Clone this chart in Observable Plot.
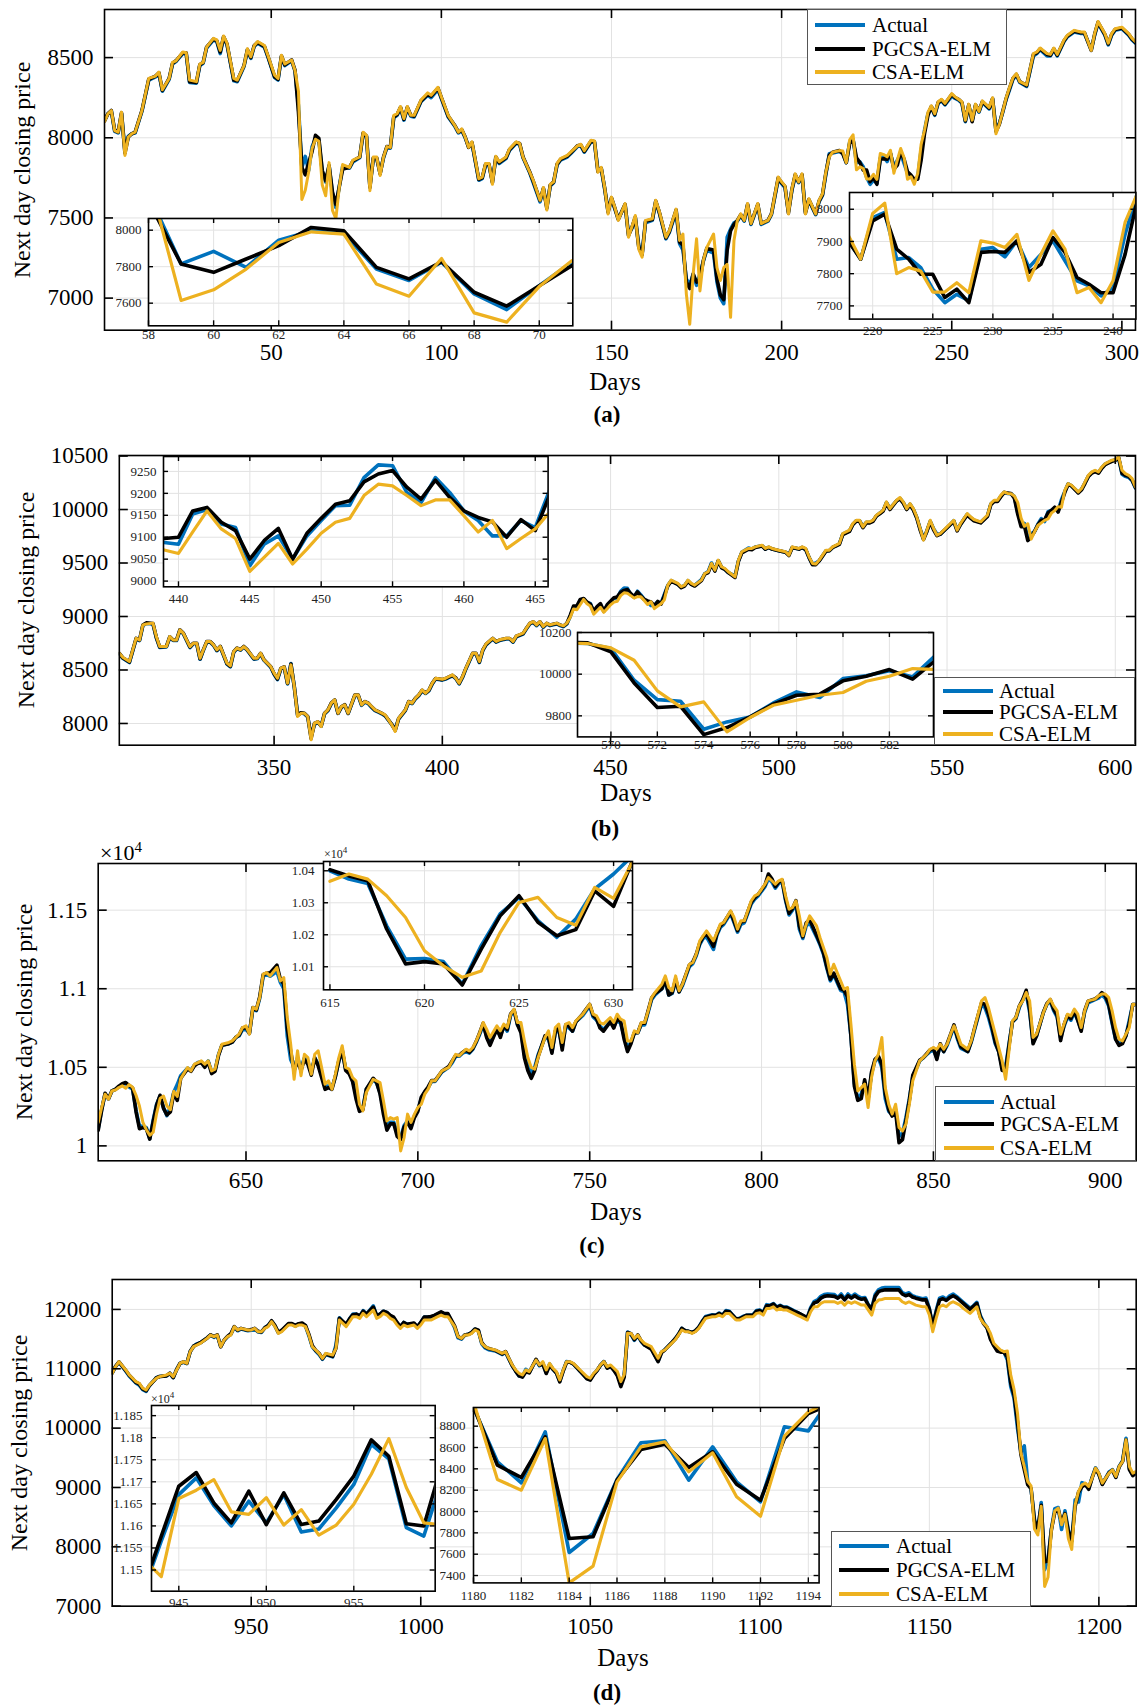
<!DOCTYPE html>
<html><head><meta charset="utf-8">
<script src="https://cdn.jsdelivr.net/npm/d3@7"></script>
<script src="https://cdn.jsdelivr.net/npm/@observablehq/plot@0.6"></script>
<style>
html,body{margin:0;padding:0;background:#fff;}
#root{position:relative;width:1147px;height:1707px;overflow:hidden;font-family:"Liberation Serif","Times New Roman",serif;color:#000;}
.lbl{position:absolute;white-space:nowrap;line-height:1;}
.legend{position:absolute;background:#fff;border:1.3px solid #555;box-sizing:border-box;}
.lrow{position:absolute;left:0;right:0;height:0;}
.lsw{position:absolute;height:4px;width:50px;top:-2px;}
.ltx{position:absolute;top:0;transform:translateY(-50%);font-size:21px;line-height:1;white-space:nowrap;}
</style></head><body><div id="root"></div>
<script>
// ---------- DATA ----------
const seriesNames = ["Actual", "PGCSA-ELM", "CSA-ELM"];
const seriesColors = ["#0072BD", "#000000", "#EDB120"];

// rows: [day, Actual, PGCSA-ELM, CSA-ELM]
const panelA = [[1,8110,8105,8100],[2,8150,8150,8150],[3,8165,8170,8170],[4,8040,8045,8045],[5,8030,8035,8035],[6,8150,8155,8160],[7,7920,7905,7890],[8,8010,8005,8005],[9,8025,8025,8025],[10,8030,8035,8035],[12,8165,8170,8170],[14,8360,8365,8370],[16,8380,8385,8385],[17,8400,8405,8410],[18,8290,8295,8300],[20,8365,8370,8370],[21,8460,8465,8470],[22,8475,8480,8480],[24,8525,8530,8535],[25,8525,8530,8530],[26,8345,8350,8360],[28,8340,8345,8350],[29,8450,8455,8460],[30,8465,8470,8470],[31,8560,8565,8565],[33,8610,8615,8620],[34,8600,8605,8610],[35,8525,8535,8545],[36,8625,8630,8635],[37,8580,8585,8590],[39,8355,8360,8370],[40,8350,8355,8360],[42,8445,8450,8450],[43,8545,8550,8555],[44,8495,8500,8505],[45,8570,8575,8575],[46,8590,8595,8600],[48,8565,8570,8575],[49,8505,8510,8515],[51,8375,8380,8390],[52,8360,8365,8370],[53,8505,8510,8515],[54,8450,8455,8460],[56,8480,8485,8485],[57,8415,8420,8420],[58,8200,8160,8290],[59,7815,7815,7615],[60,7884,7769,7673],[61,7796,7842,7787],[62,7945,7915,7933],[63,7996,8015,7991],[64,7982,7996,7978],[65,7787,7796,7705],[66,7724,7733,7638],[67,7824,7827,7845],[68,7651,7660,7547],[69,7565,7584,7496],[70,7696,7696,7691],[71,7824,7805,7833],[73,7810,7815,7815],[74,7850,7855,7860],[76,7875,7880,7880],[77,8025,8030,8035],[78,8005,8010,8015],[79,7700,7690,7670],[80,7870,7875,7880],[81,7870,7875,7880],[82,7780,7775,7765],[83,7875,7880,7880],[84,7940,7945,7945],[85,7935,7940,7940],[86,8125,8130,8140],[87,8140,8145,8150],[88,8185,8190,8195],[89,8110,8115,8120],[90,8185,8190,8195],[91,8135,8140,8140],[92,8130,8135,8140],[94,8225,8230,8235],[96,8265,8270,8280],[97,8250,8260,8265],[99,8300,8310,8315],[100,8245,8250,8255],[102,8130,8135,8140],[104,8070,8075,8075],[105,8030,8035,8035],[106,8045,8050,8055],[107,8000,8005,8005],[108,7945,7940,7940],[109,7965,7970,7975],[111,7735,7740,7745],[112,7745,7750,7755],[113,7830,7835,7840],[114,7830,7835,7840],[115,7730,7720,7710],[116,7870,7880,7885],[117,7840,7845,7850],[119,7870,7875,7880],[120,7920,7925,7930],[122,7965,7970,7975],[123,7960,7965,7965],[124,7875,7880,7880],[126,7780,7785,7785],[127,7720,7730,7735],[129,7600,7610,7610],[130,7680,7685,7690],[131,7570,7560,7550],[132,7700,7705,7710],[133,7720,7725,7725],[134,7830,7835,7840],[135,7860,7865,7870],[137,7880,7885,7890],[138,7900,7905,7910],[140,7945,7950,7950],[141,7950,7955,7960],[142,7910,7915,7920],[144,7975,7980,7985],[145,7970,7975,7980],[146,7800,7790,7785],[147,7805,7810,7815],[148,7680,7685,7690],[149,7545,7535,7525],[150,7620,7625,7630],[151,7555,7560,7565],[152,7495,7490,7485],[154,7580,7585,7590],[155,7400,7390,7380],[156,7435,7440,7445],[157,7500,7505,7515],[158,7330,7320,7305],[159,7280,7270,7255],[160,7470,7480,7485],[162,7485,7490,7495],[163,7600,7605,7610],[164,7535,7540,7545],[166,7370,7375,7380],[167,7410,7415,7420],[169,7540,7550,7555],[170,7340,7350,7360],[171,7300,7330,7400],[172,7120,7100,7025],[173,7080,7060,6837],[174,7150,7150,7150],[175,7080,7100,7370],[176,7150,7120,7045],[177,7230,7235,7235],[178,7300,7310,7315],[180,7280,7300,7400],[181,7100,7120,7190],[182,7000,7020,7110],[183,6965,6990,7190],[184,7380,7300,7210],[185,7430,7420,6880],[186,7470,7460,7360],[187,7480,7485,7485],[188,7515,7520,7525],[189,7480,7485,7485],[190,7580,7585,7590],[191,7460,7465,7465],[193,7580,7585,7590],[194,7460,7465,7465],[196,7480,7485,7485],[197,7520,7525,7525],[199,7740,7750,7755],[200,7715,7720,7725],[201,7690,7695,7700],[202,7540,7530,7525],[203,7670,7675,7680],[204,7760,7770,7775],[205,7720,7725,7725],[206,7765,7770,7775],[207,7540,7530,7525],[208,7610,7615,7620],[210,7520,7525,7525],[211,7600,7605,7610],[212,7640,7645,7650],[213,7770,7780,7785],[214,7900,7890,7880],[215,7905,7910,7910],[217,7915,7920,7920],[218,7902,7900,7917],[219,7845,7845,7845],[220,7974,7964,7987],[221,7990,7985,8019],[222,7845,7876,7800],[223,7850,7845,7819],[224,7819,7798,7808],[225,7752,7798,7743],[226,7710,7726,7743],[227,7736,7752,7772],[228,7716,7710,7741],[229,7876,7866,7902],[230,7881,7869,7895],[231,7852,7866,7881],[232,7902,7902,7922],[233,7819,7804,7779],[234,7860,7829,7860],[235,7902,7912,7933],[236,7840,7866,7876],[237,7778,7788,7741],[238,7762,7767,7757],[239,7731,7741,7710],[240,7757,7741,7778],[241,7922,7860,7959],[242,8047,8026,8047],[243,8150,8140,8160],[244,8190,8195,8200],[245,8140,8145,8150],[246,8215,8220,8225],[247,8230,8235,8240],[248,8205,8210,8215],[250,8260,8270,8275],[251,8245,8250,8255],[252,8235,8240,8240],[253,8215,8220,8225],[254,8100,8105,8110],[255,8200,8205,8210],[256,8105,8100,8110],[257,8200,8205,8210],[258,8160,8165,8165],[259,8220,8225,8230],[261,8180,8185,8190],[262,8240,8245,8250],[263,8060,8040,8025],[264,8090,8085,8085],[265,8160,8165,8165],[266,8240,8245,8250],[267,8300,8310,8315],[268,8365,8370,8375],[269,8390,8395,8400],[270,8345,8350,8350],[272,8320,8325,8330],[274,8510,8520,8525],[275,8525,8530,8535],[276,8550,8555,8560],[278,8510,8520,8525],[279,8510,8515,8520],[280,8550,8555,8560],[281,8510,8515,8520],[283,8600,8605,8610],[284,8630,8635,8640],[286,8660,8665,8670],[288,8650,8655,8660],[289,8650,8655,8660],[291,8550,8545,8545],[292,8640,8645,8650],[293,8715,8720,8725],[295,8640,8645,8650],[296,8580,8585,8590],[297,8640,8645,8650],[298,8670,8675,8680],[300,8680,8685,8690],[302,8640,8645,8650],[303,8610,8615,8620],[304,8590,8595,8600]];

const panelB = [[304,8650,8655,8657],[305,8610,8615,8620],[307,8570,8575,8579],[308,8680,8685,8688],[309,8790,8795,8797],[310,8775,8780,8780],[311,8915,8920,8922],[312,8935,8940,8930],[314,8930,8935,8938],[315,8800,8805,8813],[316,8710,8715,8719],[318,8715,8720,8720],[319,8805,8810,8813],[320,8775,8780,8780],[321,8775,8780,8780],[322,8870,8875,8875],[323,8840,8845,8845],[325,8710,8715,8719],[326,8745,8750,8750],[327,8745,8750,8750],[328,8600,8605,8610],[329,8685,8690,8690],[330,8760,8765,8766],[331,8760,8765,8766],[332,8730,8735,8735],[333,8680,8685,8688],[334,8715,8720,8720],[336,8555,8560,8564],[337,8530,8535,8539],[338,8665,8670,8673],[339,8700,8705,8705],[340,8685,8690,8690],[341,8715,8720,8719],[342,8685,8690,8690],[344,8600,8605,8610],[345,8605,8610,8610],[346,8650,8655,8657],[347,8590,8595,8595],[349,8525,8530,8532],[350,8460,8465,8470],[351,8410,8415,8423],[352,8510,8515,8517],[353,8525,8530,8530],[354,8370,8375,8377],[355,8560,8555,8548],[356,8340,8345,8345],[357,8080,8075,8065],[358,8100,8100,8096],[359,8090,8095,8096],[360,8060,8065,8065],[361,7880,7860,7847],[362,7990,8000,8003],[363,8010,8015,8018],[364,7975,7975,7971],[365,8090,8095,8096],[366,8120,8125,8127],[367,8185,8190,8190],[368,8215,8220,8221],[369,8095,8095,8096],[370,8150,8155,8158],[371,8170,8175,8174],[372,8095,8095,8096],[374,8260,8265,8267],[375,8260,8265,8267],[376,8170,8175,8174],[377,8200,8205,8205],[378,8185,8190,8190],[379,8150,8155,8158],[380,8120,8125,8127],[381,8105,8110,8112],[382,8090,8095,8096],[383,8070,8075,8080],[385,7990,7990,7987],[386,7950,7935,7925],[387,8040,8045,8049],[389,8120,8125,8127],[390,8200,8205,8205],[391,8185,8190,8190],[392,8230,8235,8236],[393,8260,8265,8267],[394,8305,8310,8314],[395,8280,8285,8283],[396,8305,8310,8314],[397,8370,8375,8377],[398,8415,8420,8423],[400,8405,8410,8414],[401,8415,8420,8423],[402,8430,8435,8439],[403,8445,8450,8455],[404,8420,8425,8423],[405,8370,8375,8377],[406,8430,8435,8439],[407,8510,8515,8517],[409,8650,8655,8657],[410,8650,8655,8657],[411,8570,8575,8579],[412,8680,8685,8688],[413,8735,8740,8744],[415,8790,8795,8797],[416,8760,8765,8766],[417,8775,8780,8782],[419,8790,8795,8797],[420,8790,8795,8797],[421,8760,8765,8766],[422,8810,8815,8819],[424,8835,8840,8844],[425,8885,8890,8891],[426,8930,8935,8938],[427,8945,8950,8953],[428,8915,8920,8922],[429,8945,8950,8953],[430,8900,8905,8906],[431,8930,8935,8938],[432,8915,8920,8922],[434,8930,8935,8938],[435,8915,8920,8922],[436,8905,8910,8913],[437,8930,8935,8938],[438,9000,9010,8990],[439,9088,9097,9071],[440,9084,9100,9063],[441,9153,9160,9112],[442,9163,9168,9160],[443,9130,9134,9119],[444,9122,9115,9097],[445,9035,9050,9022],[446,9084,9092,9054],[447,9103,9120,9086],[448,9050,9050,9039],[449,9103,9109,9073],[450,9138,9143,9109],[451,9172,9175,9134],[452,9173,9183,9143],[453,9236,9226,9195],[454,9265,9244,9221],[455,9263,9252,9217],[456,9202,9214,9195],[457,9179,9187,9172],[458,9236,9230,9185],[459,9202,9191,9185],[460,9160,9160,9149],[461,9138,9145,9112],[462,9103,9135,9138],[463,9103,9100,9074],[464,9138,9140,9097],[465,9122,9115,9119],[466,9207,9195,9157],[467,9290,9285,9293],[468,9335,9330,9340],[470,9300,9300,9309],[471,9275,9270,9278],[472,9290,9285,9293],[473,9335,9330,9340],[474,9300,9300,9309],[475,9290,9285,9293],[477,9345,9335,9340],[478,9400,9395,9402],[479,9420,9410,9418],[480,9500,9490,9496],[481,9430,9425,9434],[482,9520,9520,9527],[483,9460,9455,9465],[484,9440,9440,9449],[485,9410,9410,9418],[487,9380,9365,9371],[488,9520,9515,9527],[489,9600,9595,9605],[491,9640,9630,9636],[492,9630,9625,9636],[493,9650,9645,9651],[495,9660,9660,9667],[496,9630,9630,9636],[497,9645,9645,9651],[498,9630,9630,9636],[500,9615,9615,9620],[502,9600,9600,9605],[503,9580,9570,9574],[504,9645,9645,9651],[506,9630,9630,9636],[507,9645,9645,9651],[508,9625,9625,9636],[509,9550,9550,9558],[510,9490,9485,9496],[511,9500,9485,9490],[512,9520,9520,9527],[514,9615,9610,9620],[515,9615,9615,9620],[516,9645,9645,9651],[517,9660,9660,9667],[518,9680,9675,9683],[519,9770,9765,9776],[521,9800,9795,9807],[522,9860,9860,9869],[523,9895,9890,9900],[524,9895,9890,9900],[525,9840,9830,9838],[526,9880,9875,9885],[527,9880,9875,9885],[528,9895,9890,9900],[529,9940,9940,9947],[530,9965,9960,9969],[531,9990,9985,9994],[532,10065,10060,10072],[533,10010,10000,10009],[535,10080,10080,10087],[536,10105,10100,10112],[537,10065,10060,10072],[538,10005,10000,10009],[539,10050,10045,10056],[540,10000,9995,10009],[541,9925,9920,9932],[542,9820,9810,9823],[543,9730,9720,9714],[544,9800,9795,9807],[545,9890,9885,9900],[546,9820,9810,9823],[547,9770,9755,9760],[548,9770,9770,9776],[550,9830,9830,9838],[551,9860,9860,9869],[552,9895,9890,9900],[553,9810,9800,9807],[554,9860,9860,9869],[555,9910,9905,9916],[556,9955,9950,9963],[557,9925,9920,9932],[558,9900,9895,9907],[560,9880,9875,9885],[561,9910,9905,9916],[562,9940,9935,9947],[563,10050,10045,10056],[564,10080,10075,10087],[565,10080,10075,10087],[566,10125,10120,10134],[567,10160,10160,10165],[568,10150,10155,10150],[569,10147,10150,10147],[570,10123,10107,10126],[571,9971,9958,10067],[572,9878,9840,9920],[573,9870,9846,9843],[574,9736,9710,9867],[575,9771,9744,9723],[576,9795,9795,9792],[577,9862,9856,9851],[578,9915,9899,9875],[579,9888,9904,9899],[580,9979,9968,9912],[581,9992,9990,9966],[582,10016,10022,9990],[583,9987,9976,10027],[584,10091,10067,10022],[585,10170,10160,10180],[586,10240,10235,10243],[587,10220,10220,10227],[589,10160,10155,10165],[590,10190,10185,10196],[591,10250,10245,10258],[592,10310,10310,10320],[593,10345,10340,10352],[594,10360,10355,10367],[595,10345,10340,10352],[596,10390,10385,10398],[597,10425,10420,10430],[598,10440,10435,10445],[599,10455,10450,10461],[600,10465,10460,10467],[601,10480,10485,10492],[602,10330,10340,10367],[603,10310,10320,10336],[604,10300,10310,10320],[605,10270,10275,10289],[606,10200,10205,10212]];

const panelC = [[607,10110,10100,10149],[608,10230,10225,10244],[609,10330,10335,10329],[610,10300,10300,10297],[611,10350,10350,10350],[612,10360,10360,10355],[613,10375,10380,10371],[614,10390,10395,10382],[615,10400,10403,10367],[616,10374,10384,10390],[617,10360,10369,10374],[618,10228,10218,10322],[619,10124,10109,10254],[620,10126,10116,10150],[621,10116,10109,10103],[622,10046,10043,10067],[623,10166,10155,10087],[624,10265,10259,10207],[625,10317,10322,10301],[626,10244,10239,10317],[627,10192,10197,10254],[628,10249,10216,10230],[629,10343,10337,10348],[630,10390,10289,10314],[631,10447,10431,10428],[633,10495,10490,10499],[634,10480,10475,10477],[635,10515,10510,10520],[636,10530,10525,10530],[637,10535,10530,10541],[638,10510,10500,10520],[639,10540,10535,10541],[640,10470,10460,10477],[641,10480,10475,10488],[642,10580,10575,10583],[643,10640,10640,10647],[645,10650,10650,10658],[646,10660,10660,10668],[647,10690,10690,10690],[648,10700,10705,10711],[649,10740,10750,10753],[650,10740,10755,10764],[651,10720,10715,10711],[652,10870,10880,10881],[653,10860,10865,10870],[654,10940,10950,10944],[655,11080,11090,11093],[656,11090,11100,11103],[657,11080,11100,11082],[659,11110,11150,11135],[660,11040,11060,11050],[661,11000,11030,11071],[662,10700,10750,10817],[663,10550,10600,10647],[664,10500,10480,10424],[665,10560,10540,10605],[666,10500,10480,10446],[667,10560,10550,10583],[668,10530,10520,10562],[669,10480,10450,10456],[670,10560,10560,10583],[671,10520,10510,10605],[673,10380,10360,10393],[674,10380,10370,10414],[675,10370,10360,10361],[676,10440,10440,10456],[677,10540,10540,10562],[678,10600,10610,10637],[679,10490,10480,10499],[680,10470,10460,10488],[681,10420,10410,10435],[682,10330,10300,10414],[683,10250,10220,10265],[684,10240,10230,10223],[685,10360,10360,10339],[687,10420,10430,10424],[688,10400,10405,10414],[689,10340,10330,10403],[690,10230,10200,10286],[691,10140,10100,10159],[692,10150,10140,10180],[693,10150,10140,10170],[694,10080,10060,10180],[695,10050,10040,9968],[696,10130,10120,10053],[697,10160,10150,10202],[698,10130,10110,10149],[699,10190,10180,10202],[700,10230,10220,10244],[701,10300,10310,10265],[702,10340,10345,10329],[703,10370,10375,10361],[704,10410,10415,10414],[705,10410,10415,10414],[706,10440,10445,10446],[707,10470,10475,10477],[709,10500,10505,10499],[710,10530,10540,10541],[711,10570,10575,10583],[712,10570,10575,10573],[713,10590,10595,10594],[714,10600,10610,10615],[715,10590,10595,10605],[716,10615,10620,10626],[717,10660,10665,10668],[718,10710,10720,10721],[719,10770,10780,10785],[720,10700,10690,10743],[721,10660,10640,10690],[723,10740,10745,10764],[724,10700,10690,10732],[725,10760,10765,10775],[726,10730,10740,10753],[727,10830,10840,10838],[728,10860,10865,10870],[729,10770,10770,10785],[730,10740,10720,10785],[731,10580,10560,10668],[732,10520,10480,10562],[733,10460,10430,10499],[734,10500,10480,10488],[735,10580,10570,10562],[737,10690,10700,10690],[738,10680,10690,10732],[739,10600,10590,10626],[740,10720,10730,10753],[741,10740,10750,10775],[742,10630,10610,10658],[743,10760,10770,10775],[744,10750,10760,10785],[745,10730,10730,10753],[746,10790,10790,10796],[748,10830,10840,10838],[749,10860,10870,10870],[750,10890,10900,10902],[751,10820,10830,10838],[752,10800,10810,10827],[753,10760,10750,10785],[754,10740,10730,10775],[756,10790,10790,10817],[757,10760,10750,10785],[758,10800,10810,10838],[759,10780,10790,10806],[760,10700,10680,10796],[761,10620,10600,10668],[762,10660,10650,10668],[763,10720,10720,10732],[764,10720,10720,10721],[765,10770,10780,10785],[766,10770,10780,10785],[767,10850,10860,10859],[768,10930,10940,10944],[769,10960,10970,10976],[771,11000,11000,11029],[772,11050,11060,11082],[773,10960,10960,11008],[774,10970,10975,10987],[775,11050,11060,11082],[776,10980,10980,10987],[777,11020,11030,11029],[778,11080,11090,11093],[779,11140,11150,11156],[780,11160,11170,11167],[781,11210,11220,11220],[782,11280,11290,11305],[783,11320,11330,11337],[784,11330,11350,11368],[786,11250,11270,11305],[787,11340,11350,11358],[788,11390,11400,11411],[789,11410,11420,11422],[791,11480,11490,11496],[792,11420,11430,11453],[793,11360,11370,11379],[794,11410,11425,11432],[795,11420,11430,11432],[796,11480,11490,11496],[797,11540,11550,11560],[798,11570,11580,11591],[799,11590,11600,11602],[801,11650,11660,11666],[802,11700,11730,11708],[803,11680,11700,11687],[804,11640,11650,11666],[805,11670,11680,11687],[806,11680,11690,11697],[807,11560,11570,11591],[808,11470,11480,11506],[809,11500,11510,11517],[810,11540,11560,11560],[811,11380,11400,11464],[812,11320,11330,11337],[813,11400,11420,11411],[814,11420,11440,11464],[816,11330,11340,11400],[817,11280,11290,11326],[818,11220,11230,11262],[819,11130,11140,11199],[820,11050,11060,11093],[821,11090,11100,11156],[822,11040,11050,11103],[823,10990,11000,11050],[824,10980,10990,10997],[825,10900,10950,11008],[826,10700,10700,10775],[827,10400,10380,10520],[828,10300,10290,10350],[829,10330,10300,10371],[830,10400,10420,10393],[831,10300,10300,10244],[832,10460,10470,10435],[833,10540,10550,10541],[834,10560,10570,10583],[835,10500,10520,10690],[836,10300,10330,10371],[837,10220,10230,10265],[838,10200,10190,10202],[839,10230,10220,10265],[840,10060,10020,10117],[841,10080,10040,10095],[842,10180,10160,10138],[843,10300,10290,10265],[844,10440,10450,10414],[846,10540,10545,10541],[847,10560,10560,10562],[848,10580,10585,10583],[849,10600,10610,10615],[850,10610,10620,10626],[851,10560,10550,10615],[852,10640,10650,10647],[853,10600,10600,10615],[854,10640,10650,10647],[855,10700,10710,10711],[856,10760,10770,10764],[857,10680,10690,10711],[858,10620,10630,10647],[860,10600,10600,10615],[861,10660,10665,10668],[862,10740,10750,10753],[863,10820,10830,10838],[864,10900,10910,10923],[865,10880,10900,10944],[866,10820,10840,10881],[867,10740,10760,10796],[868,10650,10660,10711],[869,10600,10600,10626],[870,10500,10480,10541],[871,10500,10480,10424],[872,10650,10640,10605],[873,10790,10790,10796],[874,10810,10815,10817],[875,10880,10890,10891],[876,10930,10930,10923],[877,10970,10990,10976],[878,10850,10870,10923],[879,10660,10650,10690],[880,10700,10700,10711],[882,10850,10850,10849],[883,10900,10905,10902],[884,10920,10930,10934],[885,10860,10870,10891],[886,10820,10830,10859],[887,10690,10670,10711],[888,10760,10770,10775],[889,10820,10830,10838],[890,10800,10810,10827],[891,10850,10860,10870],[892,10800,10800,10838],[893,10740,10730,10753],[894,10850,10860,10859],[895,10910,10920,10923],[897,10930,10935,10934],[898,10940,10950,10955],[899,10960,10975,10966],[900,10940,10955,10966],[901,10890,10900,10944],[902,10780,10790,10859],[903,10680,10680,10753],[904,10650,10640,10679],[905,10660,10650,10668],[906,10700,10700,10711],[907,10800,10780,10753],[908,10900,10900,10902],[909,10900,10900,10900]];

const panelD = [[909,10930,10930,10924],[910,11040,11040,11036],[911,11110,11115,11120],[913,10960,10970,10980],[914,10880,10890,10896],[915,10820,10830,10840],[916,10760,10770,10784],[917,10720,10740,10756],[918,10650,10660,10672],[919,10620,10630,10644],[920,10720,10720,10728],[921,10780,10780,10784],[922,10850,10845,10840],[923,10870,10870,10868],[925,10880,10880,10896],[926,10920,10925,10924],[927,10850,10850,10868],[928,10990,10985,10980],[929,11090,11090,11092],[930,11110,11115,11120],[931,11090,11090,11092],[932,11290,11290,11288],[933,11380,11380,11372],[934,11420,11410,11400],[935,11440,11440,11428],[937,11520,11520,11512],[938,11570,11570,11568],[939,11530,11540,11540],[940,11560,11570,11568],[941,11380,11370,11372],[942,11480,11480,11484],[943,11540,11545,11540],[944,11580,11590,11568],[945,11700,11710,11709],[946,11640,11650,11653],[947,11670,11680,11680],[949,11640,11650,11653],[950,11650,11660,11653],[951,11670,11680,11680],[952,11620,11630,11624],[953,11610,11620,11624],[954,11690,11690,11680],[955,11730,11730,11709],[956,11800,11810,11793],[957,11720,11730,11709],[958,11610,11610,11596],[959,11640,11650,11624],[961,11750,11760,11737],[962,11750,11760,11737],[963,11720,11730,11709],[964,11750,11760,11737],[965,11760,11770,11737],[966,11720,11730,11709],[967,11560,11580,11568],[968,11370,11390,11372],[969,11300,11310,11316],[970,11240,11260,11260],[971,11160,11170,11176],[972,11240,11250,11260],[974,11200,11210,11232],[975,11400,11350,11344],[976,11860,11850,11821],[977,11790,11800,11765],[978,11730,11750,11709],[979,11840,11840,11793],[980,11920,11910,11877],[981,11920,11920,11877],[982,11880,11890,11849],[983,11980,11970,11933],[984,11920,11920,11877],[986,12060,12040,11989],[987,11890,11900,11849],[988,11920,11920,11877],[989,11970,11970,11933],[990,11950,11950,11905],[991,11890,11900,11849],[992,11860,11870,11821],[993,11770,11780,11737],[994,11700,11710,11680],[995,11780,11780,11737],[996,11750,11750,11709],[998,11760,11770,11737],[999,11700,11710,11680],[1000,11780,11780,11737],[1001,11870,11870,11821],[1002,11870,11870,11821],[1003,11870,11880,11821],[1004,11890,11900,11849],[1005,11920,11930,11877],[1006,11950,11960,11905],[1007,11920,11930,11877],[1008,11920,11930,11877],[1010,11690,11720,11709],[1011,11520,11540,11540],[1012,11500,11510,11512],[1013,11570,11570,11568],[1014,11580,11580,11568],[1015,11610,11610,11596],[1016,11670,11670,11653],[1017,11640,11650,11624],[1018,11420,11440,11428],[1019,11350,11370,11372],[1020,11320,11340,11344],[1022,11300,11310,11316],[1023,11270,11280,11288],[1024,11240,11250,11260],[1025,11280,11290,11288],[1026,11160,11170,11176],[1027,11050,11050,11064],[1028,10960,10960,10980],[1029,10880,10880,10924],[1030,10870,10860,10896],[1031,10990,10950,10980],[1032,10940,10930,10952],[1034,11150,11160,11148],[1035,11050,11060,11064],[1036,11100,11080,11120],[1037,10930,10920,10980],[1038,11080,11060,11092],[1039,10990,10990,11008],[1040,10930,10930,10952],[1041,10790,10780,10812],[1042,10970,10960,10980],[1043,11120,11110,11120],[1044,11110,11110,11120],[1045,11080,11080,11092],[1046,11020,11020,11036],[1047,10960,10960,10980],[1049,10840,10830,10868],[1050,10820,10810,10840],[1051,10910,10900,10924],[1052,10970,10970,10980],[1053,11060,11060,11064],[1054,11120,11120,11120],[1055,11020,11010,11036],[1056,11050,11040,11064],[1057,10980,10970,11008],[1058,10900,10880,10952],[1059,10760,10700,10784],[1060,10880,10860,10900],[1061,11620,11610,11600],[1062,11580,11590,11596],[1063,11480,11490,11512],[1064,11560,11570,11568],[1065,11460,11470,11484],[1066,11400,11400,11428],[1068,11340,11330,11372],[1070,11130,11120,11176],[1071,11280,11270,11288],[1072,11320,11320,11316],[1073,11380,11380,11372],[1074,11440,11440,11428],[1075,11500,11500,11484],[1076,11580,11580,11568],[1077,11680,11680,11653],[1078,11640,11640,11624],[1079,11630,11630,11624],[1080,11610,11610,11596],[1081,11640,11640,11624],[1082,11700,11700,11680],[1083,11800,11790,11765],[1084,11880,11870,11849],[1086,11910,11900,11877],[1087,11900,11900,11877],[1088,11940,11930,11905],[1089,11900,11900,11877],[1090,11980,11970,11933],[1091,11970,11960,11933],[1092,11900,11900,11877],[1093,11840,11840,11821],[1094,11850,11840,11821],[1095,11880,11870,11849],[1096,11900,11900,11877],[1098,11910,11900,11877],[1099,11980,11970,11933],[1100,11990,11980,11944],[1101,11950,11940,11905],[1102,12080,12060,12017],[1103,12070,12060,12017],[1104,12100,12090,12045],[1105,12040,12030,11989],[1106,12070,12060,12017],[1107,12040,12030,11989],[1108,12040,12030,11989],[1110,11980,11970,11933],[1111,11950,11950,11905],[1112,11920,11920,11877],[1113,11880,11890,11849],[1114,11860,11860,11821],[1115,12030,12010,11961],[1116,12130,12110,12045],[1117,12160,12130,12045],[1118,12220,12190,12101],[1119,12250,12220,12129],[1120,12260,12230,12129],[1122,12250,12220,12129],[1123,12200,12190,12101],[1124,12260,12230,12129],[1125,12180,12160,12073],[1126,12260,12230,12129],[1127,12210,12190,12101],[1128,12260,12230,12129],[1129,12220,12190,12101],[1130,12190,12170,12073],[1131,12200,12180,12073],[1132,12080,12070,11989],[1133,12020,12000,11905],[1134,12250,12220,12101],[1135,12330,12300,12157],[1136,12360,12320,12168],[1137,12370,12330,12185],[1139,12370,12330,12185],[1141,12370,12330,12185],[1142,12280,12260,12129],[1143,12260,12230,12101],[1144,12280,12250,12129],[1145,12230,12210,12101],[1146,12210,12190,12073],[1148,12180,12160,12045],[1149,12190,12160,12045],[1150,12020,12000,11905],[1151,11700,11720,11624],[1152,11980,11950,11849],[1153,12190,12160,12045],[1154,12210,12180,12073],[1155,12170,12150,12045],[1156,12230,12200,12101],[1157,12260,12230,12129],[1158,12220,12200,12101],[1159,12170,12150,12073],[1160,12120,12100,12017],[1162,12020,12000,11933],[1163,12060,12050,11989],[1164,12120,12100,12045],[1165,11900,11880,11849],[1166,11780,11760,11765],[1167,11700,11690,11709],[1168,11520,11500,11600],[1169,11400,11390,11430],[1170,11320,11300,11372],[1171,11300,11280,11316],[1172,11280,11280,11288],[1173,11150,11200,11300],[1174,10700,10760,10900],[1175,10500,10550,10644],[1176,10000,10100,10251],[1177,9600,9560,9578],[1178,9700,9300,9354],[1179,9100,9050,9100],[1180,8975,8981,9028],[1181,8466,8434,8300],[1182,8269,8319,8200],[1183,8747,8700,8684],[1184,7616,7747,7331],[1185,7794,7763,7488],[1186,8300,8294,8278],[1187,8644,8581,8606],[1188,8663,8631,8653],[1189,8294,8413,8372],[1190,8606,8559,8550],[1191,8278,8256,8138],[1192,8091,8106,7956],[1193,8794,8684,8706],[1194,8756,8919,8934],[1195,9081,9012,9044],[1196,9060,9050,9074],[1197,8980,8970,9018],[1198,9170,9160,9158],[1199,9330,9320,9326],[1200,9230,9220,9242],[1201,9060,9050,9074],[1203,9260,9250,9242],[1204,9300,9290,9298],[1205,9180,9170,9186],[1206,9360,9350,9354],[1207,9450,9440,9438],[1208,9830,9800,9803],[1209,9320,9300,9354],[1210,9210,9200,9242],[1211,9250,9240,9270]];

// inset (zoom) data
const insetA1Days = [58,59,60,61,62,63,64,65,66,67,68,69,70,71];
const insetA1Actual = [8200,7815,7884,7796,7945,7996,7982,7787,7724,7824,7651,7565,7696,7824];
const insetA1PG = [8160,7815,7769,7842,7915,8015,7996,7796,7733,7827,7660,7584,7696,7805];
const insetA1CSA = [8290,7615,7673,7787,7933,7991,7978,7705,7638,7845,7547,7496,7691,7833];

const insetA2Days = [218,219,220,221,222,223,224,225,226,227,228,229,230,231,232,233,234,235,236,237,238,239,240,241,242];
const insetA2Actual = [7902,7845,7974,7990,7845,7850,7819,7752,7710,7736,7716,7876,7881,7852,7902,7819,7860,7902,7840,7778,7762,7731,7757,7922,8047];
const insetA2PG = [7900,7845,7964,7985,7876,7845,7798,7798,7726,7752,7710,7866,7869,7866,7902,7804,7829,7912,7866,7788,7767,7741,7741,7860,8026];
const insetA2CSA = [7917,7845,7987,8019,7800,7819,7808,7743,7743,7772,7741,7902,7895,7881,7922,7779,7860,7933,7876,7741,7757,7710,7778,7959,8047];

const insetB1Days = [439,440,441,442,443,444,445,446,447,448,449,450,451,452,453,454,455,456,457,458,459,460,461,462,463,464,465,466];
const insetB1Actual = [9088,9084,9153,9163,9130,9122,9035,9084,9103,9050,9103,9138,9172,9173,9236,9265,9263,9202,9179,9236,9202,9160,9138,9103,9103,9138,9122,9207];
const insetB1PG = [9097,9100,9160,9168,9134,9115,9050,9092,9120,9050,9109,9143,9175,9183,9226,9244,9252,9214,9187,9230,9191,9160,9145,9135,9100,9140,9115,9195];
const insetB1CSA = [9071,9063,9112,9160,9119,9097,9022,9054,9086,9039,9073,9109,9134,9143,9195,9221,9217,9195,9172,9185,9185,9149,9112,9138,9074,9097,9119,9157];

const insetB2Days = [568,569,570,571,572,573,574,575,576,577,578,579,580,581,582,583,584];
const insetB2Actual = [10150,10147,10123,9971,9878,9870,9736,9771,9795,9862,9915,9888,9979,9992,10016,9987,10091];
const insetB2PG = [10155,10150,10107,9958,9840,9846,9710,9744,9795,9856,9899,9904,9968,9990,10022,9976,10067];
const insetB2CSA = [10150,10147,10126,10067,9920,9843,9867,9723,9792,9851,9875,9899,9912,9966,9990,10027,10022];

const insetC1Days = [615,616,617,618,619,620,621,622,623,624,625,626,627,628,629,630,631];
const insetC1Actual = [10400,10374,10360,10228,10124,10126,10116,10046,10166,10265,10317,10244,10192,10249,10343,10390,10447];
const insetC1PG = [10403,10384,10369,10218,10109,10116,10109,10043,10155,10259,10322,10239,10197,10216,10337,10289,10431];
const insetC1CSA = [10367,10390,10374,10322,10254,10150,10103,10067,10087,10207,10301,10317,10254,10230,10348,10314,10428];

const insetD1Days = [943,944,945,946,947,948,949,950,951,952,953,954,955,956,957,958,959,960];
const insetD1Actual = [11455,11566,11671,11709,11646,11600,11656,11607,11671,11586,11593,11641,11694,11785,11752,11596,11577,11700];
const insetD1PG = [11462,11577,11690,11721,11652,11607,11679,11603,11675,11603,11611,11660,11713,11795,11758,11605,11600,11736];
const insetD1CSA = [11524,11485,11662,11681,11705,11632,11626,11664,11602,11637,11579,11602,11649,11717,11798,11687,11607,11602];

const insetD2Days = [1180,1181,1182,1183,1184,1185,1186,1187,1188,1189,1190,1191,1192,1193,1194,1195];
const insetD2Actual = [8975,8466,8269,8747,7616,7794,8300,8644,8663,8294,8606,8278,8091,8794,8756,9081];
const insetD2PG = [8981,8434,8319,8700,7747,7763,8294,8581,8631,8413,8559,8256,8106,8684,8919,9012];
const insetD2CSA = [9028,8300,8200,8684,7331,7488,8278,8606,8653,8372,8550,8138,7956,8706,8934,9044];

// tick values
const xTicksA = [50,100,150,200,250,300], yTicksA = [7000,7500,8000,8500];
const xTicksB = [350,400,450,500,550,600], yTicksB = [8000,8500,9000,9500,10000,10500];
const xTicksC = [650,700,750,800,850,900], yTicksC = [10000,10500,11000,11500];
const xTicksD = [950,1000,1050,1100,1150,1200], yTicksD = [7000,8000,9000,10000,11000,12000];
const xTicksA1 = [58,60,62,64,66,68,70], yTicksA1 = [7600,7800,8000];
const xTicksA2 = [220,225,230,235,240], yTicksA2 = [7700,7800,7900,8000];
const xTicksB1 = [440,445,450,455,460,465], yTicksB1 = [9000,9050,9100,9150,9200,9250];
const xTicksB2 = [570,572,574,576,578,580,582], yTicksB2 = [9800,10000,10200];
const xTicksC1 = [615,620,625,630], yTicksC1 = [10100,10200,10300,10400];
const xTicksD1 = [945,950,955], yTicksD1 = [11500,11550,11600,11650,11700,11750,11800,11850];
const xTicksD2 = [1180,1182,1184,1186,1188,1190,1192,1194], yTicksD2 = [7400,7600,7800,8000,8200,8400,8600,8800];

// ---------- DRAWING ----------
const root = document.getElementById("root");
const FONT = '"Liberation Serif","Times New Roman",serif';
const GRID = "#e2e2e2";
const keys = ["act","pg","csa"];
const widthsMain = [3.6, 3.6, 3.0];
const widthsInset = [3.6, 3.6, 3.2];

function place(el, left, top) {
  el.style.position = "absolute";
  el.style.left = left + "px";
  el.style.top = top + "px";
  root.appendChild(el);
}
const plain = d => String(d);
const e4 = d => String(+(d / 1e4).toFixed(3));

function mainPanel(rows, box, xDomain, yDomain, xTicks, yTicks, yFmt, padX) {
  const [x0, x1, y0, y1] = box;
  const mT = 2, mB = 46;
  const iW = x1 - x0, iH = y1 - y0;
  const data = rows.map(r => ({day: r[0], act: r[1], pg: r[2], csa: r[3]}));
  const tk = 9;
  const svg = Plot.plot({
    width: 1147, height: iH + mT + mB,
    marginLeft: x0, marginRight: 1147 - x1, marginTop: mT, marginBottom: mB,
    style: {fontFamily: FONT, fontSize: "23px", background: "transparent", overflow: "visible", color: "#000"},
    x: {domain: xDomain},
    y: {domain: yDomain},
    marks: [
      Plot.gridX(xTicks, {stroke: GRID, strokeOpacity: 1, strokeWidth: 1}),
      Plot.gridY(yTicks, {stroke: GRID, strokeOpacity: 1, strokeWidth: 1}),
      ...keys.map((k, i) => Plot.line(data, {x: "day", y: k, stroke: seriesColors[i], strokeWidth: widthsMain[i], strokeLinejoin: "round", clip: true})),
      Plot.frame({stroke: "#000", strokeWidth: 1.6}),
      Plot.tickX(xTicks, {x: d => d, insetTop: iH - tk, stroke: "#000", strokeWidth: 1.6}),
      Plot.tickX(xTicks, {x: d => d, insetBottom: iH - tk, stroke: "#000", strokeWidth: 1.6}),
      Plot.tickY(yTicks, {y: d => d, insetRight: iW - tk, stroke: "#000", strokeWidth: 1.6}),
      Plot.tickY(yTicks, {y: d => d, insetLeft: iW - tk, stroke: "#000", strokeWidth: 1.6}),
      Plot.axisX(xTicks, {tickSize: 0, tickPadding: padX, label: null, tickFormat: plain, fill: "#000"}),
      Plot.axisY(yTicks, {tickSize: 0, tickPadding: 11, label: null, tickFormat: yFmt, fill: "#000"})
    ]
  });
  place(svg, 0, y0 - mT);
}

function insetPanel(days, act, pg, csa, box, xDomain, yDomain, xTicks, yTicks, yFmt, padX, padY) {
  const [x0, x1, y0, y1] = box;
  const mL = 50, mR = 3, mT = 3, mB = 26;
  const iW = x1 - x0, iH = y1 - y0;
  const data = days.map((d, i) => ({day: d, act: act[i], pg: pg[i], csa: csa[i]}));
  const tk = 5;
  const svg = Plot.plot({
    width: iW + mL + mR, height: iH + mT + mB,
    marginLeft: mL, marginRight: mR, marginTop: mT, marginBottom: mB,
    style: {fontFamily: FONT, fontSize: "13px", background: "transparent", overflow: "visible", color: "#222"},
    x: {domain: xDomain},
    y: {domain: yDomain},
    marks: [
      Plot.frame({fill: "#fff", stroke: null}),
      Plot.gridX(xTicks, {stroke: GRID, strokeOpacity: 1, strokeWidth: 1}),
      Plot.gridY(yTicks, {stroke: GRID, strokeOpacity: 1, strokeWidth: 1}),
      ...keys.map((k, i) => Plot.line(data, {x: "day", y: k, stroke: seriesColors[i], strokeWidth: widthsInset[i], strokeLinejoin: "round", clip: true})),
      Plot.frame({stroke: "#000", strokeWidth: 1.6}),
      Plot.tickX(xTicks, {x: d => d, insetTop: iH - tk, stroke: "#000", strokeWidth: 1.4}),
      Plot.tickX(xTicks, {x: d => d, insetBottom: iH - tk, stroke: "#000", strokeWidth: 1.4}),
      Plot.tickY(yTicks, {y: d => d, insetRight: iW - tk, stroke: "#000", strokeWidth: 1.4}),
      Plot.tickY(yTicks, {y: d => d, insetLeft: iW - tk, stroke: "#000", strokeWidth: 1.4}),
      Plot.axisX(xTicks, {tickSize: 0, tickPadding: padX, label: null, tickFormat: plain, fill: "#222"}),
      Plot.axisY(yTicks, {tickSize: 0, tickPadding: padY, label: null, tickFormat: yFmt, fill: "#222"})
    ]
  });
  place(svg, x0 - mL, y0 - mT);
}

function legend(left, top, w, h, rowYs, swX, txX) {
  const box = document.createElement("div");
  box.className = "legend";
  box.style.width = w + "px"; box.style.height = h + "px";
  seriesNames.forEach((name, i) => {
    const row = document.createElement("div");
    row.className = "lrow";
    row.style.top = rowYs[i] + "px";
    const sw = document.createElement("div");
    sw.className = "lsw"; sw.style.left = swX + "px"; sw.style.background = seriesColors[i];
    const tx = document.createElement("div");
    tx.className = "ltx"; tx.style.left = txX + "px"; tx.textContent = name;
    row.appendChild(sw); row.appendChild(tx); box.appendChild(row);
  });
  place(box, left, top);
}

function label(html, x, y, size, opts = {}) {
  const d = document.createElement("div");
  d.className = "lbl";
  d.innerHTML = html;
  d.style.fontSize = size + "px";
  if (opts.bold) d.style.fontWeight = "bold";
  if (opts.color) d.style.color = opts.color;
  let t = opts.start ? "translate(0,-50%)" : "translate(-50%,-50%)";
  if (opts.rotate) t += " rotate(-90deg)";
  d.style.transform = t;
  place(d, x, y);
}

// main panels
mainPanel(panelA, [104, 1135, 9.3, 330], [1, 304], [6800, 8800], xTicksA, yTicksA, plain, 13);
mainPanel(panelB, [118.8, 1135, 455.3, 745], [304, 606], [7797, 10505], xTicksB, yTicksB, plain, 13);
mainPanel(panelC, [97.7, 1135.7, 862.7, 1160], [607, 909], [9905, 11797], xTicksC, yTicksC, e4, 11);
mainPanel(panelD, [111.7, 1135.7, 1279.3, 1606], [909, 1211], [7000, 12504], xTicksD, yTicksD, plain, 11);

// insets
insetPanel(insetA1Days, insetA1Actual, insetA1PG, insetA1CSA, [148.4, 572.7, 217.7, 325], [58, 71.03], [7476, 8064], xTicksA1, yTicksA1, plain, 4, 7);
insetPanel(insetA2Days, insetA2Actual, insetA2PG, insetA2CSA, [848.6, 1135, 191.7, 318.3], [218.07, 241.9], [7659, 8052], xTicksA2, yTicksA2, plain, 7, 7);
insetPanel(insetB1Days, insetB1Actual, insetB1PG, insetB1CSA, [162.7, 547.3, 455.7, 586], [438.95, 465.9], [8987, 9284], xTicksB1, yTicksB1, plain, 7, 7);
insetPanel(insetB2Days, insetB2Actual, insetB2PG, insetB2CSA, [577.3, 933.3, 632.3, 736.7], [568.56, 583.9], [9699, 10200], xTicksB2, yTicksB2, plain, 3, 6);
insetPanel(insetC1Days, insetC1Actual, insetC1PG, insetC1CSA, [322.7, 631.7, 860.7, 989], [614.66, 631], [10028, 10429], xTicksC1, yTicksC1, e4, 8, 9);
insetPanel(insetD1Days, insetD1Actual, insetD1PG, insetD1CSA, [151, 434.7, 1405.3, 1591], [943.44, 959.65], [11452, 11873], xTicksD1, yTicksD1, e4, 7, 9);
insetPanel(insetD2Days, insetD2Actual, insetD2PG, insetD2CSA, [472.7, 818.3, 1407.3, 1582.7], [1180, 1194.45], [7331, 8975], xTicksD2, yTicksD2, plain, 8, 8);

// legends
legend(807, 9, 200, 76, [15, 38.5, 62], 7, 64);
legend(934, 677, 201, 68, [12.6, 34.3, 56], 8, 64);
legend(935, 1086, 201, 75, [14.7, 37.3, 60.7], 8, 64);
legend(831, 1531, 200, 76, [14, 38, 61.7], 7, 64);

// axis titles and panel letters
const yTitle = "Next day closing price";
label(yTitle, 22, 170, 24, {rotate: true});
label(yTitle, 26, 600, 24, {rotate: true});
label(yTitle, 24, 1012, 24, {rotate: true});
label(yTitle, 19, 1443, 24, {rotate: true});
label("Days", 615, 381, 25);
label("Days", 626, 792, 25);
label("Days", 616, 1211, 25);
label("Days", 623, 1657, 25);
label("(a)", 607, 414, 23, {bold: true});
label("(b)", 605, 828, 23, {bold: true});
label("(c)", 592, 1245, 23, {bold: true});
label("(d)", 607, 1692, 23, {bold: true});
label("&times;10<sup style='font-size:15px;vertical-align:8px'>4</sup>", 100, 852, 22, {start: true});
label("&times;10<sup style='font-size:9px;vertical-align:5px'>4</sup>", 324, 853, 12, {start: true, color: "#222"});
label("&times;10<sup style='font-size:9px;vertical-align:5px'>4</sup>", 151, 1398, 12, {start: true, color: "#222"});
</script></body></html>
